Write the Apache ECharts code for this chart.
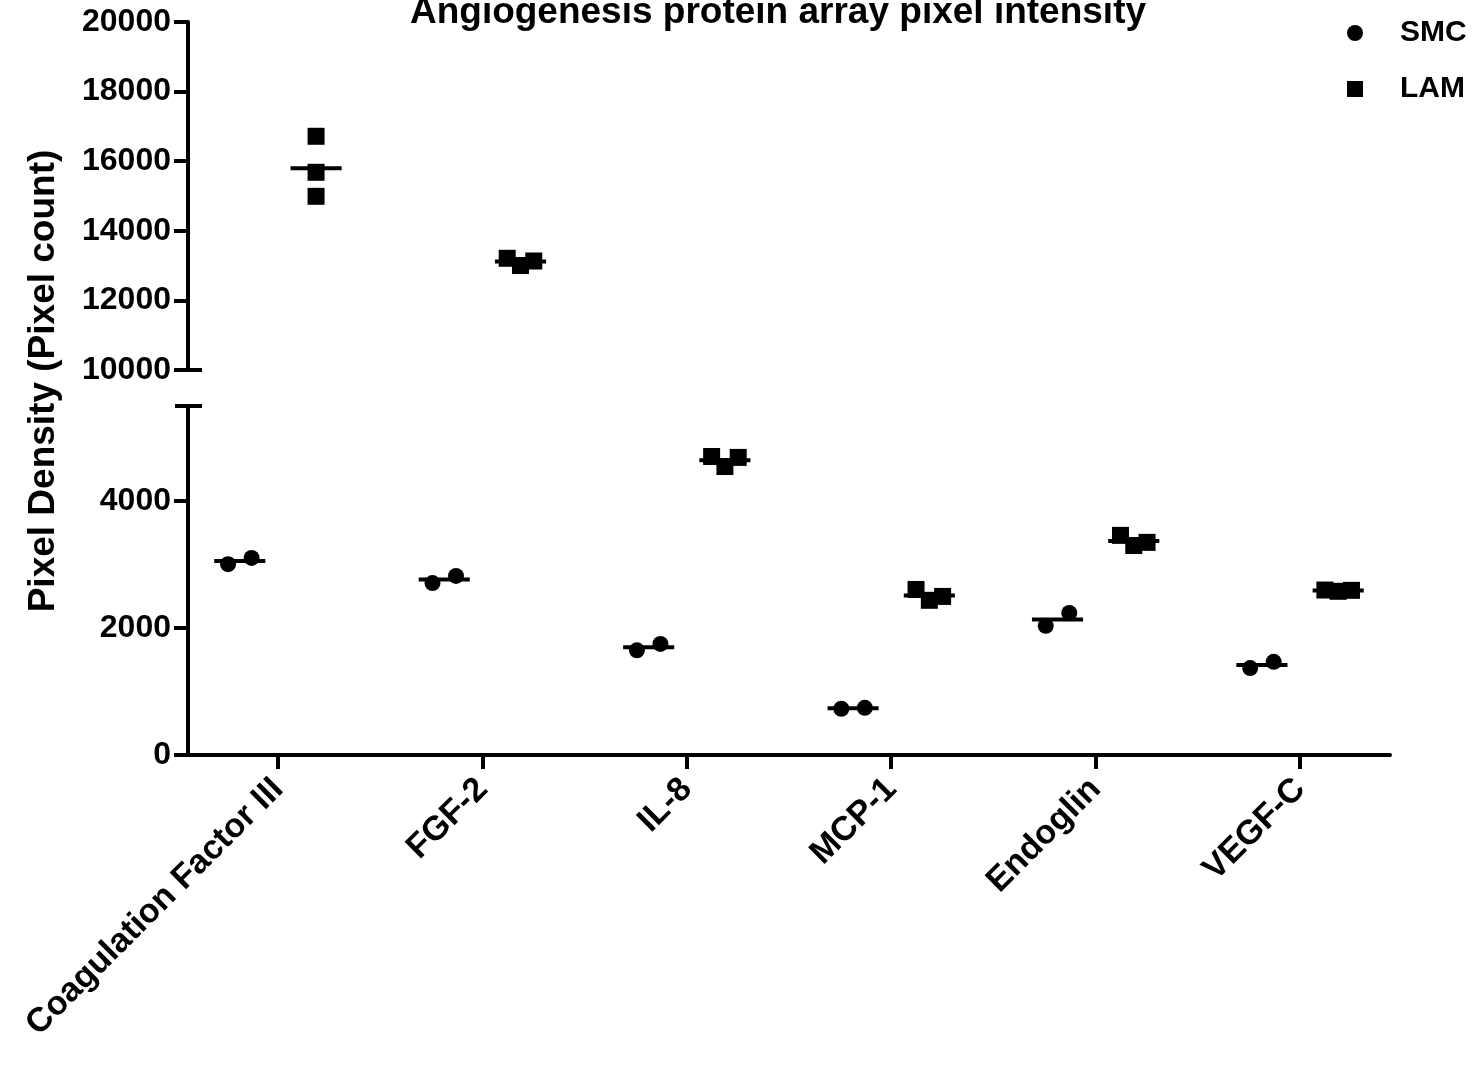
<!DOCTYPE html>
<html>
<head>
<meta charset="utf-8">
<script src="https://cdn.jsdelivr.net/npm/echarts@6/dist/echarts.min.js"></script>
<style>
  html, body { margin: 0; padding: 0; background: #fff; }
  #chart { width: 1475px; height: 1067px; }
</style>
</head>
<body>
<div id="chart"></div>
<script>
// values (pixel count per replicate)
const categories = ['Coagulation Factor III', 'FGF-2', 'IL-8', 'MCP-1', 'Endoglin', 'VEGF-C'];
const smcValues = [[3008, 3106], [2709, 2822], [1649, 1751], [729, 743], [2035, 2239], [1370, 1468]];
const lamValues = [[16716, 15681, 14991], [13210, 13003, 13132], [4704, 4546, 4690], [2609, 2438, 2499], [3461, 3302, 3351], [2600, 2580, 2595]];
const upperTicks = [10000, 12000, 14000, 16000, 18000, 20000];
const lowerTicks = [0, 2000, 4000];
const xTicks = [0, 1, 2, 3, 4, 5];

const FONT = '"Liberation Sans", Arial, sans-serif';
const BREAK = 10000;
const LEFT = 188, WIDTH = 1202;
// upper segment 10000-20000, lower segment 0-5500
const segs = [
  { top: 22, height: 348, min: 10000, max: 20000, ticks: upperTicks },
  { top: 406, height: 349, min: 0, max: 5500, ticks: lowerTicks }
];
const X_MIN = -0.44, X_MAX = 5.44;

// spread points sideways only when the markers would overlap (Prism style)
function buildPoints(values, groupOffset, step, size) {
  const out = { pts: [[], []], means: [[], []] };
  values.forEach((vals, i) => {
    const gi = vals[0] >= BREAK ? 0 : 1;
    const s = segs[gi];
    const ppu = s.height / (s.max - s.min);
    let overlap = false;
    for (let a = 0; a < vals.length; a++) {
      for (let b = a + 1; b < vals.length; b++) {
        if (Math.abs(vals[a] - vals[b]) * ppu < size) overlap = true;
      }
    }
    vals.forEach((v, j) => {
      const off = overlap ? (j - (vals.length - 1) / 2) * step : 0;
      out.pts[gi].push([i + groupOffset + off, v]);
    });
    const mean = vals.reduce((p, c) => p + c, 0) / vals.length;
    out.means[gi].push([i + groupOffset, mean]);
  });
  return out;
}

const smc = buildPoints(smcValues, -0.1865, 0.115, 16);
const lam = buildPoints(lamValues, 0.1865, 0.065, 17);

function meanLine(params, api) {
  const x = api.value(0), y = api.value(1);
  const p1 = api.coord([x - 0.125, y]);
  const p2 = api.coord([x + 0.125, y]);
  return {
    type: 'line',
    shape: { x1: p1[0], y1: p1[1], x2: p2[0], y2: p2[1] },
    style: { stroke: '#000', lineWidth: 4 }
  };
}

const grid = segs.map(s => ({ left: LEFT, width: WIDTH, top: s.top, height: s.height }));

const xAxis = segs.map((s, gi) => ({
  type: 'value',
  gridIndex: gi,
  min: X_MIN,
  max: X_MAX,
  show: gi === 1,
  splitLine: { show: false },
  axisLine: { show: true, onZero: false, lineStyle: { color: '#000', width: 4 } },
  axisTick: { show: true, customValues: xTicks, length: 14, lineStyle: { color: '#000', width: 4 } },
  axisLabel: {
    customValues: xTicks,
    rotate: 45,
    margin: 29,
    formatter: v => categories[Math.round(v)],
    color: '#000', fontFamily: FONT, fontWeight: 'bold', fontSize: 34
  }
}));

const yAxis = segs.map((s, gi) => ({
  type: 'value',
  gridIndex: gi,
  min: s.min,
  max: s.max,
  splitLine: { show: false },
  axisLine: { show: true, onZero: false, lineStyle: { color: '#000', width: 4 } },
  axisTick: { show: true, customValues: s.ticks, length: 14, lineStyle: { color: '#000', width: 4 } },
  axisLabel: {
    customValues: s.ticks, margin: 17, formatter: v => String(v),
    color: '#000', fontFamily: FONT, fontWeight: 'bold', fontSize: 32
  }
}));

const series = [];
[0, 1].forEach(gi => {
  series.push({
    name: 'SMC', type: 'scatter', xAxisIndex: gi, yAxisIndex: gi,
    symbol: 'circle', symbolSize: 16, itemStyle: { color: '#000', opacity: 1 }, z: 3,
    data: smc.pts[gi]
  });
  series.push({
    name: 'LAM', type: 'scatter', xAxisIndex: gi, yAxisIndex: gi,
    symbol: 'rect', symbolSize: 17, itemStyle: { color: '#000', opacity: 1 }, z: 3,
    data: lam.pts[gi]
  });
  series.push({
    name: 'SMC mean', type: 'custom', xAxisIndex: gi, yAxisIndex: gi,
    renderItem: meanLine, data: smc.means[gi], z: 2
  });
  series.push({
    name: 'LAM mean', type: 'custom', xAxisIndex: gi, yAxisIndex: gi,
    renderItem: meanLine, data: lam.means[gi], z: 2
  });
});

const chart = echarts.init(document.getElementById('chart'));
chart.setOption({
  backgroundColor: '#fff',
  animation: false,
  grid: grid,
  xAxis: xAxis,
  yAxis: yAxis,
  legend: {
    data: [{ name: 'SMC', icon: 'circle' }, { name: 'LAM', icon: 'rect' }],
    orient: 'vertical',
    left: 1342,
    top: 13,
    itemWidth: 16,
    itemHeight: 16,
    itemGap: 26,
    itemStyle: { color: '#000', opacity: 1 },
    textStyle: { color: '#000', fontFamily: FONT, fontWeight: 'bold', fontSize: 30, lineHeight: 30, padding: [0, 0, 0, 32] }
  },
  graphic: [
    {
      type: 'text', x: 778, y: 13,
      style: { text: 'Angiogenesis protein array pixel intensity', fill: '#000', font: 'bold 37px ' + FONT, textAlign: 'center', textVerticalAlign: 'middle' }
    },
    {
      type: 'text', x: 44, y: 381, rotation: Math.PI / 2,
      style: { text: 'Pixel Density (Pixel count)', fill: '#000', font: 'bold 37px ' + FONT, textAlign: 'center', textVerticalAlign: 'middle' }
    },
    // axis break caps
    { type: 'line', shape: { x1: LEFT, y1: 370, x2: 202, y2: 370 }, style: { stroke: '#000', lineWidth: 4 } },
    { type: 'line', shape: { x1: 175, y1: 406, x2: 202, y2: 406 }, style: { stroke: '#000', lineWidth: 4 } }
  ],
  series: series
});
</script>
</body>
</html>
